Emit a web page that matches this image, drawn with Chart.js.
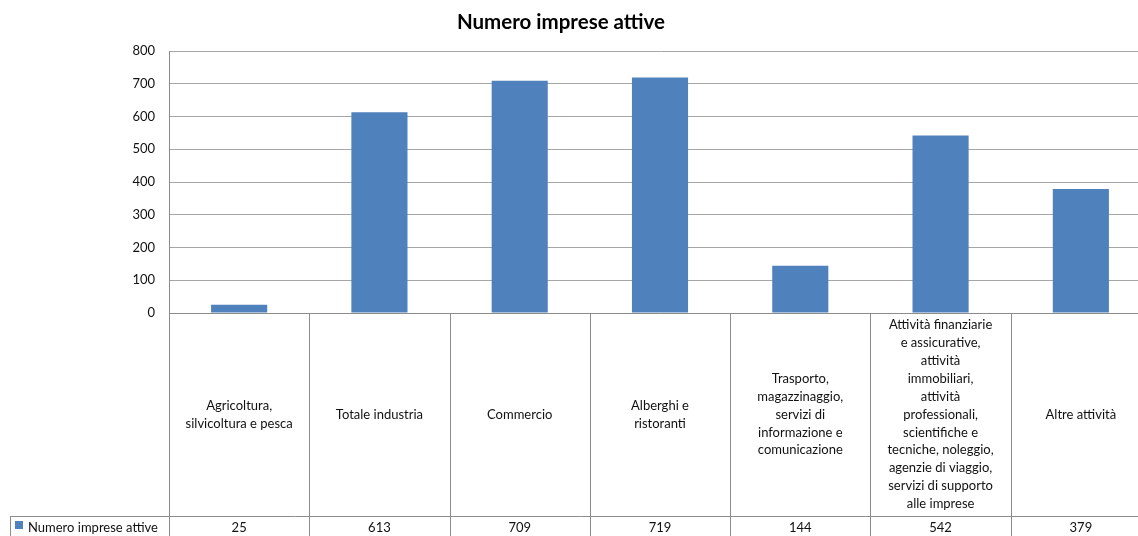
<!DOCTYPE html>
<html>
<head>
<meta charset="utf-8">
<script src="https://cdn.jsdelivr.net/npm/chart.js@4.4.1/dist/chart.umd.min.js"></script>
<style>
  html, body { margin: 0; padding: 0; background: #fff; overflow: hidden; }
  #wrap { position: absolute; left: 0; top: 0; width: 1160px; height: 536px; }
</style>
</head>
<body>
<div id="wrap"><canvas id="chart" width="1160" height="536"></canvas></div>
<script>
  // Sector labels, already broken into the lines shown in the table cells
  const categories = [
    ['Agricoltura,', 'silvicoltura e pesca'],
    ['Totale industria'],
    ['Commercio'],
    ['Alberghi e', 'ristoranti'],
    ['Trasporto,', 'magazzinaggio,', 'servizi di', 'informazione e', 'comunicazione'],
    ['Attività finanziarie', 'e assicurative,', 'attività', 'immobiliari,', 'attività',
     'professionali,', 'scientifiche e', 'tecniche, noleggio,', 'agenzie di viaggio,',
     'servizi di supporto', 'alle imprese'],
    ['Altre attività']
  ];
  const impreseAttive = [25, 613, 709, 719, 144, 542, 379];
  const seriesName = 'Numero imprese attive';
  const chartTitle = 'Numero imprese attive';
  const yTicks = [0, 100, 200, 300, 400, 500, 600, 700, 800];

  const FONT = 'Lato, "DejaVu Sans", sans-serif';
  const BAR_COLOR = '#4F81BD';
  const LINE_COLOR = '#8c8c8c';
  const TEXT_COLOR = '#111';

  // Title drawn by hand so it can sit left of the canvas centre
  const titlePlugin = {
    id: 'excelTitle',
    afterDraw(chart) {
      const ctx = chart.ctx;
      ctx.save();
      ctx.font = 'bold 20.5px ' + FONT;
      ctx.fillStyle = '#000';
      ctx.textAlign = 'center';
      ctx.textBaseline = 'middle';
      ctx.fillText(chartTitle, 561, 22);
      ctx.restore();
    }
  };

  // Data table under the plot: category row + value row with legend key
  const dataTable = {
    id: 'dataTable',
    afterDraw(chart) {
      const { ctx, chartArea, scales: { x } } = chart;
      const top = chartArea.bottom;
      const rowY = 516;
      const bottom = chart.height;
      const n = categories.length;
      const colW = (chartArea.right - chartArea.left) / n;

      ctx.save();
      ctx.strokeStyle = LINE_COLOR;
      ctx.lineWidth = 1;

      // column separators
      for (let i = 0; i <= n; i++) {
        const cx = Math.round(chartArea.left + i * colW) + 0.5;
        ctx.beginPath();
        ctx.moveTo(cx, top);
        ctx.lineTo(cx, bottom);
        ctx.stroke();
      }
      // row separator + legend cell border
      ctx.beginPath();
      ctx.moveTo(10, rowY + 0.5);
      ctx.lineTo(chartArea.right, rowY + 0.5);
      ctx.moveTo(10.5, rowY);
      ctx.lineTo(10.5, bottom);
      ctx.stroke();

      ctx.fillStyle = TEXT_COLOR;
      ctx.font = '13px ' + FONT;
      ctx.textAlign = 'center';
      ctx.textBaseline = 'middle';

      const lineH = 17.9;
      const midY = (top + rowY) / 2;
      categories.forEach((lines, i) => {
        const cx = x.getPixelForValue(i);
        const y0 = midY - (lines.length - 1) * lineH / 2;
        lines.forEach((t, j) => ctx.fillText(t, cx, y0 + j * lineH));
        ctx.fillText(String(impreseAttive[i]), cx, 528);
      });

      // legend key
      ctx.fillStyle = BAR_COLOR;
      ctx.fillRect(15, 521, 8, 8);
      ctx.fillStyle = TEXT_COLOR;
      ctx.textAlign = 'left';
      ctx.fillText(seriesName, 28, 528);
      ctx.restore();
    }
  };

  new Chart(document.getElementById('chart'), {
    type: 'bar',
    data: {
      labels: categories,
      datasets: [{
        label: seriesName,
        data: impreseAttive,
        backgroundColor: BAR_COLOR,
        borderWidth: 0,
        categoryPercentage: 1.0,
        barPercentage: 0.4
      }]
    },
    options: {
      responsive: false,
      animation: false,
      events: [],
      layout: { padding: { top: 51, right: 9, left: 0, bottom: 0 } },
      plugins: {
        legend: { display: false },
        title: { display: false },
        tooltip: { enabled: false }
      },
      scales: {
        x: {
          grid: { display: false },
          border: { display: true, color: LINE_COLOR, width: 1 },
          ticks: { display: false },
          afterFit(scale) { scale.height = 223; }
        },
        y: {
          min: 0,
          max: 800,
          afterBuildTicks(scale) { scale.ticks = yTicks.map(v => ({ value: v })); },
          grid: { color: '#a6a6a6', drawTicks: false },
          border: { display: true, color: LINE_COLOR, width: 1 },
          ticks: {
            padding: 14,
            color: TEXT_COLOR,
            font: { family: FONT, size: 13 }
          },
          afterFit(scale) { scale.width = 169; }
        }
      }
    },
    plugins: [titlePlugin, dataTable]
  });
</script>
</body>
</html>
